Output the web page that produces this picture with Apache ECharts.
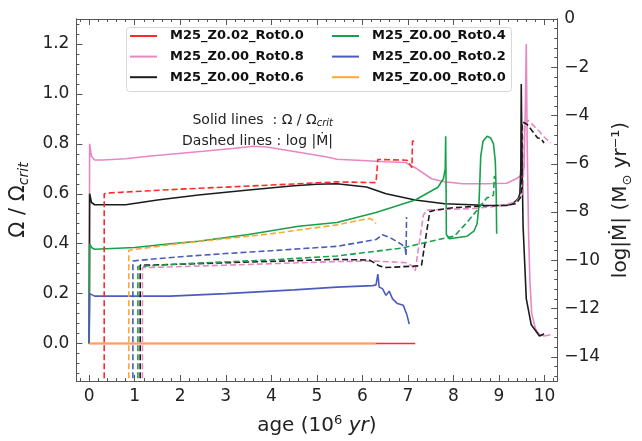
<!DOCTYPE html>
<html><head><meta charset="utf-8">
<script src="https://cdn.jsdelivr.net/npm/echarts@6/dist/echarts.min.js"></script>
<style>html,body{margin:0;padding:0;background:#fff}#c{width:642px;height:441px}</style>
</head><body><div id="c"></div>
<script>
// ---------- data ----------
const seriesNames = ['M25_Z0.02_Rot0.0','M25_Z0.00_Rot0.8','M25_Z0.00_Rot0.6','M25_Z0.00_Rot0.4','M25_Z0.00_Rot0.2','M25_Z0.00_Rot0.0'];
const seriesColors = ['#ff2a2a','#e987c4','#1c1c1c','#18a04a','#4c5cbd','#ffa733'];

const ageTicks = [0,1,2,3,4,5,6,7,8,9,10];
const omegaTicks = [0,0.2,0.4,0.6,0.8,1.0,1.2];
const mdotTicks = [-14,-12,-10,-8,-6,-4,-2,0];

// Solid lines: Omega/Omega_crit  [age (Myr), value]
const redOmega = [[0,0],[7.16,0]];
const pinkOmega = [[0,0],[0.01,0.8],[0.05,0.75],[0.12,0.735],[0.3,0.735],[0.8,0.74],[1.3,0.75],[1.78,0.758],[2.5,0.77],[3.2,0.782],[3.6,0.79],[3.9,0.787],[4.3,0.775],[4.8,0.76],[5.2,0.748],[5.44,0.738],[6.0,0.733],[6.5,0.728],[6.95,0.725],[7.2,0.7],[7.52,0.66],[7.8,0.648],[8.2,0.64],[8.67,0.64],[9.17,0.642],[9.38,0.66],[9.5,0.675],[9.55,0.7],[9.58,0.95],[9.6,1.2],[9.62,0.8],[9.65,0.45],[9.68,0.25],[9.72,0.12],[9.8,0.06],[9.89,0.035],[10.0,0.03],[10.13,0.035]];
const blackOmega = [[0,0],[0.01,0.6],[0.05,0.565],[0.12,0.556],[0.8,0.556],[1.5,0.575],[2.4,0.595],[3.5,0.615],[4.5,0.632],[5.0,0.638],[5.44,0.64],[6.09,0.627],[6.52,0.6],[7.16,0.575],[7.81,0.56],[8.67,0.554],[9.16,0.553],[9.3,0.56],[9.42,0.58],[9.46,0.6],[9.48,0.7],[9.49,1.04],[9.51,0.7],[9.53,0.47],[9.6,0.18],[9.71,0.075],[9.89,0.03],[9.95,0.035],[9.99,0.04]];
const greenOmega = [[0,0],[0.01,0.4],[0.05,0.385],[0.12,0.378],[1.0,0.385],[1.78,0.4],[2.4,0.41],[3.5,0.437],[4.6,0.47],[5.44,0.485],[6.3,0.525],[7.16,0.575],[7.66,0.626],[7.78,0.66],[7.82,0.7],[7.83,0.83],[7.84,0.6],[7.845,0.437],[7.91,0.42],[8.3,0.43],[8.45,0.45],[8.52,0.48],[8.56,0.55],[8.6,0.75],[8.65,0.81],[8.74,0.83],[8.82,0.823],[8.88,0.8],[8.92,0.73],[8.94,0.6],[8.95,0.44]];
const blueOmega = [[0,0],[0.01,0.2],[0.05,0.192],[0.12,0.19],[1.78,0.19],[3.0,0.2],[4.5,0.215],[5.44,0.226],[6.23,0.232],[6.3,0.235],[6.34,0.278],[6.37,0.226],[6.44,0.22],[6.52,0.193],[6.59,0.21],[6.66,0.18],[6.77,0.16],[6.9,0.153],[6.98,0.114],[7.03,0.078]];
const orangeOmega = [[0,0],[6.3,0]];

// Dashed lines: log|Mdot|  [age (Myr), value]
const redMdot = [[0.33,-16],[0.33,-7.24],[0.5,-7.2],[2,-7.05],[4,-6.88],[5.44,-6.75],[6.3,-6.78],[6.34,-5.82],[6.98,-5.85],[7.09,-6.16],[7.1,-5.07],[7.16,-5.04]];
const pinkMdot = [[1.17,-16],[1.17,-10.3],[1.3,-10.3],[3,-10.2],[5.44,-10.05],[6.3,-10.03],[6.98,-10.1],[7.1,-10.25],[7.16,-10.44],[7.34,-8.13],[7.41,-7.92],[8.0,-7.88],[8.45,-7.85],[9.0,-7.75],[9.38,-7.58],[9.53,-7.24],[9.55,-5.5],[9.56,-4.39],[9.63,-4.19],[9.7,-4.3],[9.8,-4.5],[9.89,-4.66],[10.0,-4.9],[10.14,-5.14]];
const blackMdot = [[1.12,-16],[1.12,-10.2],[1.3,-10.2],[3,-10.1],[5.44,-9.96],[6.16,-9.99],[6.37,-10.23],[6.52,-10.3],[7.23,-10.23],[7.3,-10.2],[7.48,-7.99],[7.59,-7.92],[8.0,-7.82],[8.6,-7.75],[9.17,-7.72],[9.38,-7.65],[9.47,-7.4],[9.5,-7.0],[9.51,-4.28],[9.56,-4.3],[9.63,-4.39],[9.74,-4.66],[9.85,-4.93],[9.92,-4.95],[9.99,-5.14]];
const greenMdot = [[1.07,-16],[1.07,-10.26],[1.2,-10.24],[2,-10.15],[4,-9.98],[5.44,-9.82],[6.87,-9.49],[7.81,-9.08],[8.02,-9.0],[8.31,-8.4],[8.52,-7.92],[8.74,-7.4],[8.81,-7.38],[8.88,-7.3],[8.9,-6.5]];
const blueMdot = [[0.96,-16],[0.96,-10.03],[1.1,-10.0],[2,-9.85],[3,-9.72],[4,-9.6],[5.44,-9.42],[6.3,-9.14],[6.44,-8.94],[6.6,-9.05],[6.87,-9.35],[6.94,-9.49],[6.96,-9.82],[6.97,-8.2]];
const orangeMdot = [[0.87,-16],[0.87,-9.58],[1.0,-9.55],[2,-9.3],[3,-9.1],[4,-8.9],[5.44,-8.53],[6.16,-8.26],[6.25,-8.35],[6.3,-8.47]];

const omegaData = [redOmega,pinkOmega,blackOmega,greenOmega,blueOmega,orangeOmega];
const mdotData = [redMdot,pinkMdot,blackMdot,greenMdot,blueMdot,orangeMdot];

// ---------- chart ----------
const FONT = 'DejaVu Sans';
const AX = '#555';
const TXT = '#222';
function minorList(lo, hi, step, majors){
  const out=[]; const n=Math.round((hi-lo)/step);
  for(let i=0;i<=n;i++){const v=+(lo+i*step).toFixed(4); if(!majors.some(m=>Math.abs(m-v)<1e-6)) out.push(v);}
  return out;
}
const ageMinor = minorList(-0.2,10.2,0.2,ageTicks);
const omegaMinor = minorList(-0.12,1.28,0.04,omegaTicks);
const mdotMinor = minorList(-14.8,0,0.4,mdotTicks);

const XMIN=-0.28, XMAX=10.28, YMIN=-0.15, YMAX=1.3, RMIN=-15, RMAX=0;
const minus = v => (v<0 ? '\u2212'+(-v) : ''+v);

function xAx(pos, ticks, len, labels, extra){
  return Object.assign({type:'value', position:pos, min:XMIN, max:XMAX,
    axisLine:{show:true,onZero:false,lineStyle:{color:AX,width:1}},
    axisTick:{show:true,inside:true,length:len,customValues:ticks,lineStyle:{color:AX,width:1}},
    axisLabel:labels?{show:true,customValues:ticks,fontSize:17,color:TXT,fontFamily:FONT,margin:7}:{show:false},
    splitLine:{show:false}}, extra||{});
}
function yAx(pos, min, max, ticks, len, labels, fmt, extra){
  return Object.assign({type:'value', position:pos, min:min, max:max,
    axisLine:{show:true,onZero:false,lineStyle:{color:AX,width:1}},
    axisTick:{show:true,inside:true,length:len,customValues:ticks,lineStyle:{color:AX,width:1}},
    axisLabel:labels?{show:true,customValues:ticks,fontSize:17,color:TXT,fontFamily:FONT,margin:7,formatter:fmt}:{show:false},
    splitLine:{show:false}}, extra||{});
}

const series=[];
omegaData.forEach((d,i)=>series.push({name:seriesNames[i],type:'line',xAxisIndex:0,yAxisIndex:0,data:d,symbol:'none',
  lineStyle:{color:seriesColors[i],width:1.6},itemStyle:{color:seriesColors[i]},z:3,animation:false}));
mdotData.forEach((d,i)=>series.push({name:seriesNames[i],type:'line',xAxisIndex:0,yAxisIndex:2,data:d,symbol:'none',
  lineStyle:{color:seriesColors[i],width:1.6,type:[6,3]},itemStyle:{color:seriesColors[i]},z:3,animation:false}));

const legendCommon = {orient:'vertical',icon:'rect',itemWidth:27,itemHeight:2,itemGap:6.6,padding:0,z:10,
  textStyle:{fontFamily:FONT,fontWeight:'bold',fontSize:13,color:'#111',lineHeight:14,padding:[0,0,0,8]},selectedMode:false};

const option = {
  animation:false,
  backgroundColor:'#fff',
  grid:{left:74,right:77,top:19,bottom:54},
  xAxis:[
    xAx('bottom',ageTicks,6,true,{name:'{a|age (10}{s|6}{a| }{i|yr}{a|)}',nameLocation:'middle',nameGap:33,
      nameTextStyle:{fontFamily:FONT,color:TXT,fontSize:20,rich:{a:{fontFamily:FONT,fontSize:20,color:TXT,lineHeight:24},
      s:{fontFamily:FONT,fontSize:13,color:TXT,verticalAlign:'top',lineHeight:24},i:{fontFamily:FONT,fontSize:20,fontStyle:'italic',color:TXT,lineHeight:24}}}}),
    xAx('bottom',ageMinor,3,false),
    xAx('top',ageTicks,6,false),
    xAx('top',ageMinor,3,false)
  ],
  yAxis:[
    yAx('left',YMIN,YMAX,omegaTicks,6,true,v=>v.toFixed(1),{name:'{a|\u03A9 / \u03A9}{b|crit}',nameLocation:'middle',nameGap:42,
      nameTextStyle:{fontFamily:FONT,color:TXT,fontSize:21,rich:{a:{fontFamily:FONT,fontSize:21,color:TXT,lineHeight:26},
      b:{fontFamily:FONT,fontSize:14,fontStyle:'italic',color:TXT,verticalAlign:'bottom',lineHeight:26}}}}),
    yAx('left',YMIN,YMAX,omegaMinor,3,false),
    yAx('right',RMIN,RMAX,mdotTicks,6,true,minus,{name:'{a|log|\u1E40| (M}{b|\u2299}{a| yr\u207B\u00B9)}',nameLocation:'middle',nameGap:50,nameRotate:90,
      nameTextStyle:{fontFamily:FONT,color:TXT,fontSize:20,rich:{a:{fontFamily:FONT,fontSize:20,color:TXT,lineHeight:26},
      b:{fontFamily:FONT,fontSize:13,color:TXT,verticalAlign:'bottom',lineHeight:26}}}}),
    yAx('right',RMIN,RMAX,mdotMinor,3,false)
  ],
  legend:[
    Object.assign({left:130,top:29,data:seriesNames.slice(0,3)},legendCommon),
    Object.assign({left:332,top:29,data:seriesNames.slice(3,6)},legendCommon)
  ],
  graphic:[
    {type:'rect',shape:{x:126.5,y:27.5,width:385,height:64,r:3},style:{fill:'rgba(255,255,255,0.85)',stroke:'#d8d8d8',lineWidth:1},z:2},
    {type:'text',x:333,y:120,z:6,style:{text:'{a|Solid lines  : \u03A9 / \u03A9}{b|crit}',align:'right',verticalAlign:'middle',
      rich:{a:{fontFamily:FONT,fontSize:14,fill:TXT,lineHeight:17},b:{fontFamily:FONT,fontSize:10,fontStyle:'italic',fill:TXT,verticalAlign:'bottom',lineHeight:17}}}},
    {type:'text',x:333,y:141,z:6,style:{text:'Dashed lines : log |\u1E40|',align:'right',verticalAlign:'middle',font:'14px "DejaVu Sans"',fill:TXT}}
  ],
  series:series
};
const chart = echarts.init(document.getElementById('c'),null,{renderer:'canvas'});
chart.setOption(option);
</script>
</body></html>
